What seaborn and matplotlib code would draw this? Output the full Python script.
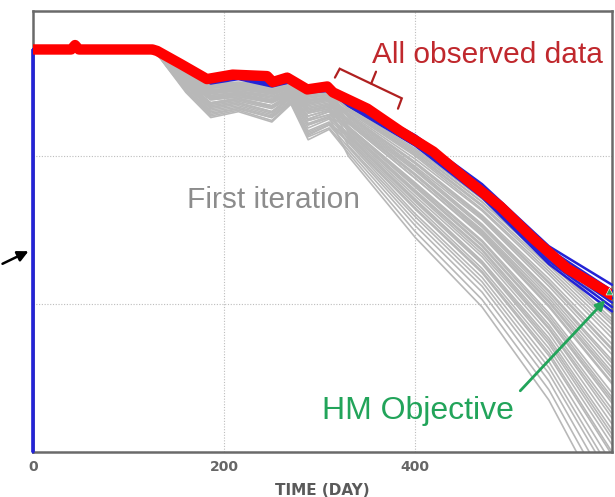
import matplotlib
matplotlib.use("Agg")
import matplotlib.pyplot as plt
import seaborn as sns
import pandas as pd

# ---------------- data ----------------
obs_days = [0, 40, 44, 48, 125, 130, 155, 182, 209, 245, 251, 266, 287, 308, 314,
            350, 384, 419, 454, 489, 524, 559, 601, 606]
obs_vals = [272, 272, 275, 272, 272, 271, 262, 252, 255, 254, 250, 253, 245, 247, 243,
            232, 217, 203, 184, 166, 144, 124, 108, 106]

run_days = [0, 125, 160, 186, 215, 250, 270, 288, 310, 330, 400, 470, 540, 606]

gray_runs = [
    [273, 273, 258, 249, 250, 248, 250, 243, 244, 234, 207, 173, 134, 97],
    [273, 273, 257, 248, 249, 247, 249, 241, 243, 233, 205, 171, 131, 93],
    [273, 273, 256, 247, 248, 245, 248, 240, 241, 232, 203, 169, 128, 88],
    [273, 273, 258, 248, 249, 247, 250, 242, 243, 231, 201, 166, 124, 83],
    [273, 273, 256, 246, 247, 244, 248, 238, 240, 230, 200, 164, 122, 80],
    [273, 273, 255, 244, 246, 243, 247, 237, 239, 229, 198, 163, 120, 77],
    [273, 273, 257, 247, 248, 246, 249, 240, 242, 228, 196, 160, 117, 73],
    [273, 273, 254, 243, 245, 242, 246, 235, 238, 227, 195, 158, 114, 69],
    [273, 273, 253, 242, 244, 240, 245, 233, 236, 227, 193, 157, 112, 66],
    [273, 273, 256, 246, 248, 245, 248, 239, 241, 226, 192, 154, 109, 62],
    [273, 273, 253, 241, 243, 239, 245, 232, 235, 224, 190, 152, 106, 57],
    [273, 273, 255, 245, 246, 243, 247, 237, 239, 224, 188, 150, 104, 54],
    [273, 273, 252, 240, 242, 238, 244, 230, 234, 223, 187, 148, 101, 50],
    [273, 273, 251, 239, 241, 237, 243, 229, 232, 222, 185, 146, 98, 46],
    [273, 273, 255, 244, 246, 242, 247, 236, 238, 220, 182, 143, 94, 40],
    [273, 273, 250, 238, 240, 236, 242, 227, 231, 220, 181, 142, 92, 37],
    [273, 273, 250, 236, 239, 234, 242, 225, 230, 219, 179, 139, 89, 33],
    [273, 273, 249, 235, 238, 233, 241, 224, 228, 218, 177, 137, 86, 29],
    [273, 273, 254, 243, 244, 241, 246, 234, 237, 216, 175, 134, 83, 23],
    [273, 273, 248, 234, 237, 232, 240, 222, 227, 215, 173, 132, 80, 19],
    [273, 273, 248, 233, 236, 230, 240, 221, 226, 214, 171, 129, 77, 15],
    [273, 273, 252, 240, 242, 238, 244, 231, 234, 213, 169, 127, 73, 9],
    [273, 273, 247, 232, 235, 229, 239, 219, 225, 212, 167, 124, 70, 5],
    [273, 273, 246, 231, 234, 228, 238, 217, 223, 210, 164, 121, 65, -2],
    [273, 273, 245, 230, 233, 227, 237, 216, 222, 209, 161, 118, 61, -8],
    [273, 273, 250, 238, 240, 236, 242, 227, 231, 207, 159, 115, 57, -14],
    [273, 273, 244, 228, 232, 226, 236, 214, 221, 206, 156, 112, 53, -19],
    [273, 273, 244, 227, 231, 224, 236, 213, 219, 204, 153, 108, 48, -27],
    [273, 273, 243, 226, 230, 223, 235, 211, 218, 202, 149, 103, 42, -35],
    [273, 273, 248, 233, 236, 230, 240, 221, 226, 200, 145, 98, 35, -45],
    [273, 273, 249, 235, 238, 233, 241, 224, 228, 222, 185, 147, 99, 47],
    [273, 273, 252, 239, 242, 237, 244, 230, 233, 217, 176, 136, 84, 26],
    [273, 273, 245, 229, 232, 226, 237, 215, 221, 214, 170, 128, 75, 12],
    [273, 273, 253, 241, 243, 240, 245, 232, 235, 231, 202, 167, 126, 86],
    [273, 273, 255, 244, 246, 243, 247, 237, 239, 219, 180, 140, 90, 35],
    [273, 273, 257, 248, 249, 247, 249, 241, 243, 232, 204, 169, 129, 90],
    [273, 273, 256, 246, 247, 244, 248, 238, 240, 228, 195, 159, 115, 70],
    [273, 273, 254, 243, 245, 242, 246, 235, 238, 223, 187, 149, 102, 52],
    [273, 273, 251, 239, 241, 237, 243, 229, 232, 225, 191, 153, 108, 60],
    [273, 273, 250, 236, 239, 234, 242, 225, 230, 211, 165, 122, 67, 0],
]

blue_days = [0, 0, 125, 160, 186, 215, 250, 270, 288, 310, 330, 400, 470, 540, 606]
blue_runs = [
    [0, 272, 272, 260, 252, 255, 250, 252, 245, 247, 238, 214, 181, 139, 113],
    [0, 272, 272, 259, 251, 254, 249, 251, 244, 246, 237, 213, 179, 137, 109],
    [0, 272, 272, 259, 250, 253, 248, 251, 244, 245, 235, 209, 175, 131, 101],
    [0, 272, 272, 258, 250, 253, 248, 250, 243, 245, 234, 208, 173, 129, 98],
    [0, 272, 272, 258, 249, 252, 247, 250, 243, 244, 234, 207, 172, 127, 95],
    [0, 272, 272, 259, 251, 254, 249, 251, 244, 246, 236, 210, 176, 133, 104],
]

hm_day = [603]
hm_val = [109]

x_ticks = [0, 200, 400]
x_label = "TIME (DAY)"

# ---------------- build long tables ----------------
gray_df = pd.DataFrame(
    [(i, d, v) for i, run in enumerate(gray_runs) for d, v in zip(run_days, run)],
    columns=["run", "day", "value"])
blue_df = pd.DataFrame(
    [(i, d, v) for i, run in enumerate(blue_runs) for d, v in zip(blue_days, run)],
    columns=["run", "day", "value"])
obs_df = pd.DataFrame({"day": obs_days, "value": obs_vals})

# ---------------- plot ----------------
sns.set_style("white")
fig = plt.figure(figsize=(6.15, 4.97), dpi=100)
ax = fig.add_axes([33 / 615, 1 - 452 / 497, (612 - 33) / 615, (452 - 11) / 497])

sns.lineplot(data=gray_df, x="day", y="value", units="run", estimator=None,
             sort=False, color="#b8b8b8", lw=1.2, ax=ax, legend=False)
n_before = len(ax.lines)
sns.lineplot(data=blue_df, x="day", y="value", units="run", estimator=None,
             sort=False, color="#2323d6", lw=1.8, ax=ax, legend=False)
for ln in ax.lines[n_before:]:
    ln.set_zorder(3)
    ln.set_clip_on(False)
sns.lineplot(data=obs_df, x="day", y="value", sort=False, color="#ff0000",
             lw=7.5, ax=ax, legend=False, solid_capstyle="round",
             solid_joinstyle="round", zorder=4)
sns.scatterplot(x=hm_day, y=hm_val, color="#22a45a", s=25, marker="^",
                ax=ax, zorder=5, legend=False)

ax.set_xlim(0, 606)
ax.set_ylim(0, 298)
ax.set_xticks(x_ticks)
ax.set_xticklabels([str(t) for t in x_ticks], fontweight="bold", color="#666666",
                   fontsize=10)
ax.set_yticks([0, 100, 200])
ax.set_yticklabels([])
ax.tick_params(length=0, pad=6)
ax.grid(True, linestyle=(0, (1, 1.5)), color="#bdbdbd", lw=0.8)
ax.set_axisbelow(True)
ax.set_xlabel(x_label, fontweight="bold", color="#5a5a5a", fontsize=11, labelpad=6)
ax.set_ylabel("")
for s in ax.spines.values():
    s.set_color("#6a6a6a")
    s.set_linewidth(1.8)

# ---------------- annotations ----------------
txt_font = ["Liberation Sans", "DejaVu Sans"]
ax.text(355, 268, "All observed data", color="#c0282d", fontsize=21.5,
        family=txt_font, va="center", ha="left")
ax.text(161, 170, "First iteration", color="#8c8c8c", fontsize=21.5,
        family=txt_font, va="center", ha="left")
ax.text(302, 28, "HM Objective", color="#22a45a", fontsize=23,
        family=txt_font, va="center", ha="left")
ax.annotate("", xy=(601, 104), xytext=(508, 40),
            arrowprops=dict(arrowstyle="-|>", color="#22a45a", lw=2,
                            mutation_scale=14))
# bracket under "All observed data"
ax.plot([316, 321, 386, 382], [253, 259, 239, 232], color="#b02020", lw=1.6,
        solid_joinstyle="miter")
ax.plot([354, 359], [249, 257], color="#b02020", lw=1.6)

# black arrow outside the axes on the left
ax.annotate("", xy=(31, 247), xycoords="figure pixels",
            xytext=(0, 232), textcoords="figure pixels",
            arrowprops=dict(arrowstyle="-|>", color="black", lw=1.8,
                            mutation_scale=16),
            annotation_clip=False)

fig.savefig("out.png", dpi=100)
